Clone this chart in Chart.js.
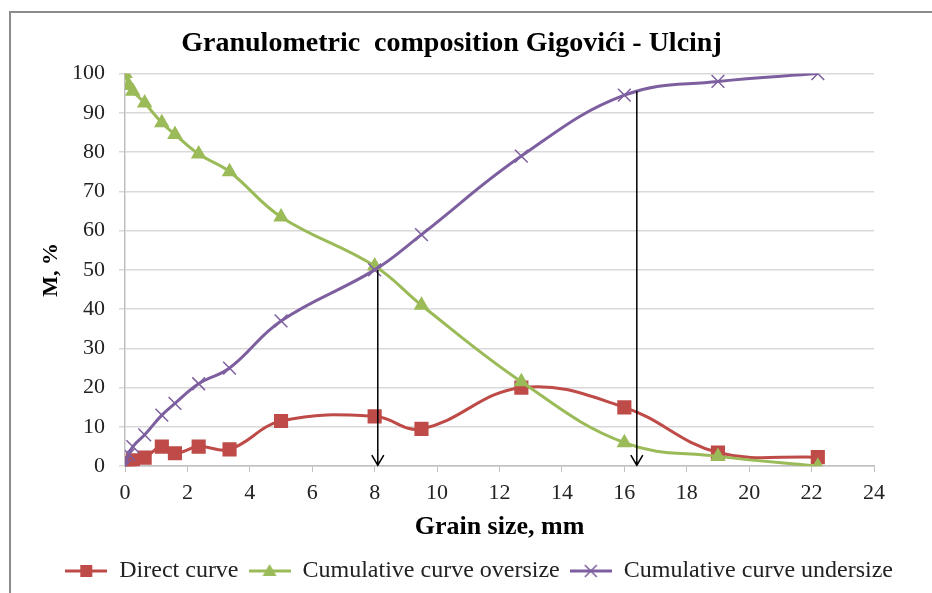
<!DOCTYPE html>
<html>
<head>
<meta charset="utf-8">
<script src="https://cdn.jsdelivr.net/npm/chart.js@4.4.0/dist/chart.umd.min.js"></script>
<style>
  html, body { margin: 0; padding: 0; background: #fff; overflow: hidden; }
  #frame { position: absolute; left: 9px; top: 11px; width: 1000px; height: 1000px; border: 2px solid #8c8c8c; }
  #wrap { position: absolute; left: 0; top: 0; width: 932px; height: 593px; }
</style>
</head>
<body>
<div id="frame"></div>
<div id="wrap"><canvas id="myChart" width="932" height="593"></canvas></div>
<script>
// grain sizes, mm
const grainSize = [0, 0.125, 0.25, 0.63, 1.18, 1.6, 2.36, 3.35, 5, 8, 9.5, 12.7, 16, 19, 22.2];
// M, %
const directCurve = [0, 0.8, 1.5, 2.2, 5, 3.3, 5, 4.3, 11.5, 12.7, 9.5, 20, 15, 3.5, 2.3];
const oversize = [100, 97, 95.5, 92.5, 87.5, 84.5, 79.5, 75, 63.5, 51, 41, 21.5, 6, 2.5, 0];
const undersize = [0, 3, 5, 8, 13, 16, 21, 25, 37, 50, 59, 79, 94.5, 98, 100];
// arrows
const arrowX = [8.1, 16.4];
const arrowTop = [50, 95.5];

const RED = "#BE4B48", GREEN = "#9BBB59", PURPLE = "#7D5FA0";
const FONT = "'Liberation Serif', 'Times New Roman', serif";

const pts = (ys) => grainSize.map((x, i) => ({ x: x, y: ys[i] }));

// legend swatch: line with marker in the middle
function swatch(color, style) {
  const c = document.createElement("canvas");
  c.width = 42; c.height = 18;
  const g = c.getContext("2d");
  g.strokeStyle = color; g.fillStyle = color; g.lineWidth = 3;
  g.beginPath(); g.moveTo(0, 9); g.lineTo(42, 9); g.stroke();
  g.beginPath();
  if (style === "rect") {
    g.fillRect(15, 3, 12, 12);
  } else if (style === "triangle") {
    g.moveTo(21, 2); g.lineTo(28, 14); g.lineTo(14, 14); g.closePath(); g.fill();
  } else {
    g.lineWidth = 1.5;
    g.moveTo(15, 3); g.lineTo(27, 15); g.moveTo(27, 3); g.lineTo(15, 15); g.stroke();
  }
  return c;
}

const arrows = {
  id: "arrows",
  afterDatasetsDraw(chart) {
    const { ctx, scales: { x, y } } = chart;
    ctx.save();
    ctx.strokeStyle = "#000";
    ctx.lineWidth = 1.5;
    arrowX.forEach((v, i) => {
      const px = x.getPixelForValue(v);
      const top = y.getPixelForValue(arrowTop[i]);
      const bot = y.getPixelForValue(0) - 1;
      ctx.beginPath();
      ctx.moveTo(px, top); ctx.lineTo(px, bot);
      ctx.moveTo(px - 6, bot - 10); ctx.lineTo(px, bot); ctx.lineTo(px + 6, bot - 10);
      ctx.stroke();
    });
    ctx.restore();
  }
};

new Chart(document.getElementById("myChart"), {
  type: "scatter",
  data: {
    datasets: [
      {
        label: "Direct curve",
        data: pts(directCurve),
        showLine: true,
        tension: 0.4,
        borderColor: RED,
        backgroundColor: RED,
        borderWidth: 3,
        pointStyle: "rect",
        pointRadius: 10,
        pointBorderWidth: 0,
        order: 3
      },
      {
        label: "Cumulative curve oversize",
        data: pts(oversize),
        showLine: true,
        tension: 0.4,
        borderColor: GREEN,
        backgroundColor: GREEN,
        borderWidth: 3,
        pointStyle: "triangle",
        pointRadius: 9,
        pointBorderWidth: 0,
        order: 2
      },
      {
        label: "Cumulative curve undersize",
        data: pts(undersize),
        showLine: true,
        tension: 0.4,
        borderColor: PURPLE,
        backgroundColor: PURPLE,
        borderWidth: 3,
        pointStyle: "crossRot",
        pointRadius: 9,
        pointBorderWidth: 1.5,
        order: 1
      }
    ]
  },
  options: {
    responsive: false,
    animation: false,
    layout: { padding: { left: 0, right: 29, top: 10, bottom: 0 } },
    plugins: {
      tooltip: { enabled: false },
      title: {
        display: true,
        text: "Granulometric  composition Gigovići - Ulcinj",
        color: "#000",
        font: { family: FONT, size: 28, weight: "bold" },
        padding: { top: 17, bottom: 13 }
      },
      legend: {
        position: "bottom",
        align: "end",
        labels: {
          color: "#222",
          font: { family: FONT, size: 24 },
          usePointStyle: true,
          pointStyleWidth: 42,
          padding: 10,
          generateLabels(chart) {
            const styles = [swatch(RED, "rect"), swatch(GREEN, "triangle"), swatch(PURPLE, "cross")];
            return chart.data.datasets.map((ds, i) => ({
              text: ds.label,
              datasetIndex: i,
              pointStyle: styles[i],
              fontColor: "#222",
              lineWidth: 0,
              hidden: false
            }));
          }
        }
      }
    },
    scales: {
      x: {
        type: "linear",
        min: 0,
        max: 24,
        ticks: { stepSize: 2, color: "#222", font: { family: FONT, size: 22 }, padding: 8 },
        grid: { drawOnChartArea: false, drawTicks: true, tickLength: 6, color: "#BFBFBF" },
        border: { color: "#BFBFBF", width: 1.5 },
        title: {
          display: true,
          text: "Grain size, mm",
          color: "#000",
          font: { family: FONT, size: 26, weight: "bold", lineHeight: 1 },
          padding: { top: 0, bottom: 8.4 }
        }
      },
      y: {
        min: 0,
        max: 100,
        afterFit(scale) { scale.width = 125; },
        ticks: { stepSize: 10, color: "#222", font: { family: FONT, size: 22 }, padding: 14 },
        grid: { color: "#D9D9D9", lineWidth: 1.5, tickLength: 6 },
        border: { color: "#BFBFBF", width: 1.5 },
        title: {
          display: true,
          text: "M, %",
          color: "#000",
          font: { family: FONT, size: 22, weight: "bold" },
          padding: { top: 38, bottom: 0 }
        }
      },
      // empty right-hand box so the plot ends where the reference's does
      spacer: {
        position: "right",
        afterFit(scale) { scale.width = 29; },
        ticks: { display: false },
        grid: { display: false },
        border: { display: false }
      }
    }
  },
  plugins: [arrows]
});
</script>
</body>
</html>
